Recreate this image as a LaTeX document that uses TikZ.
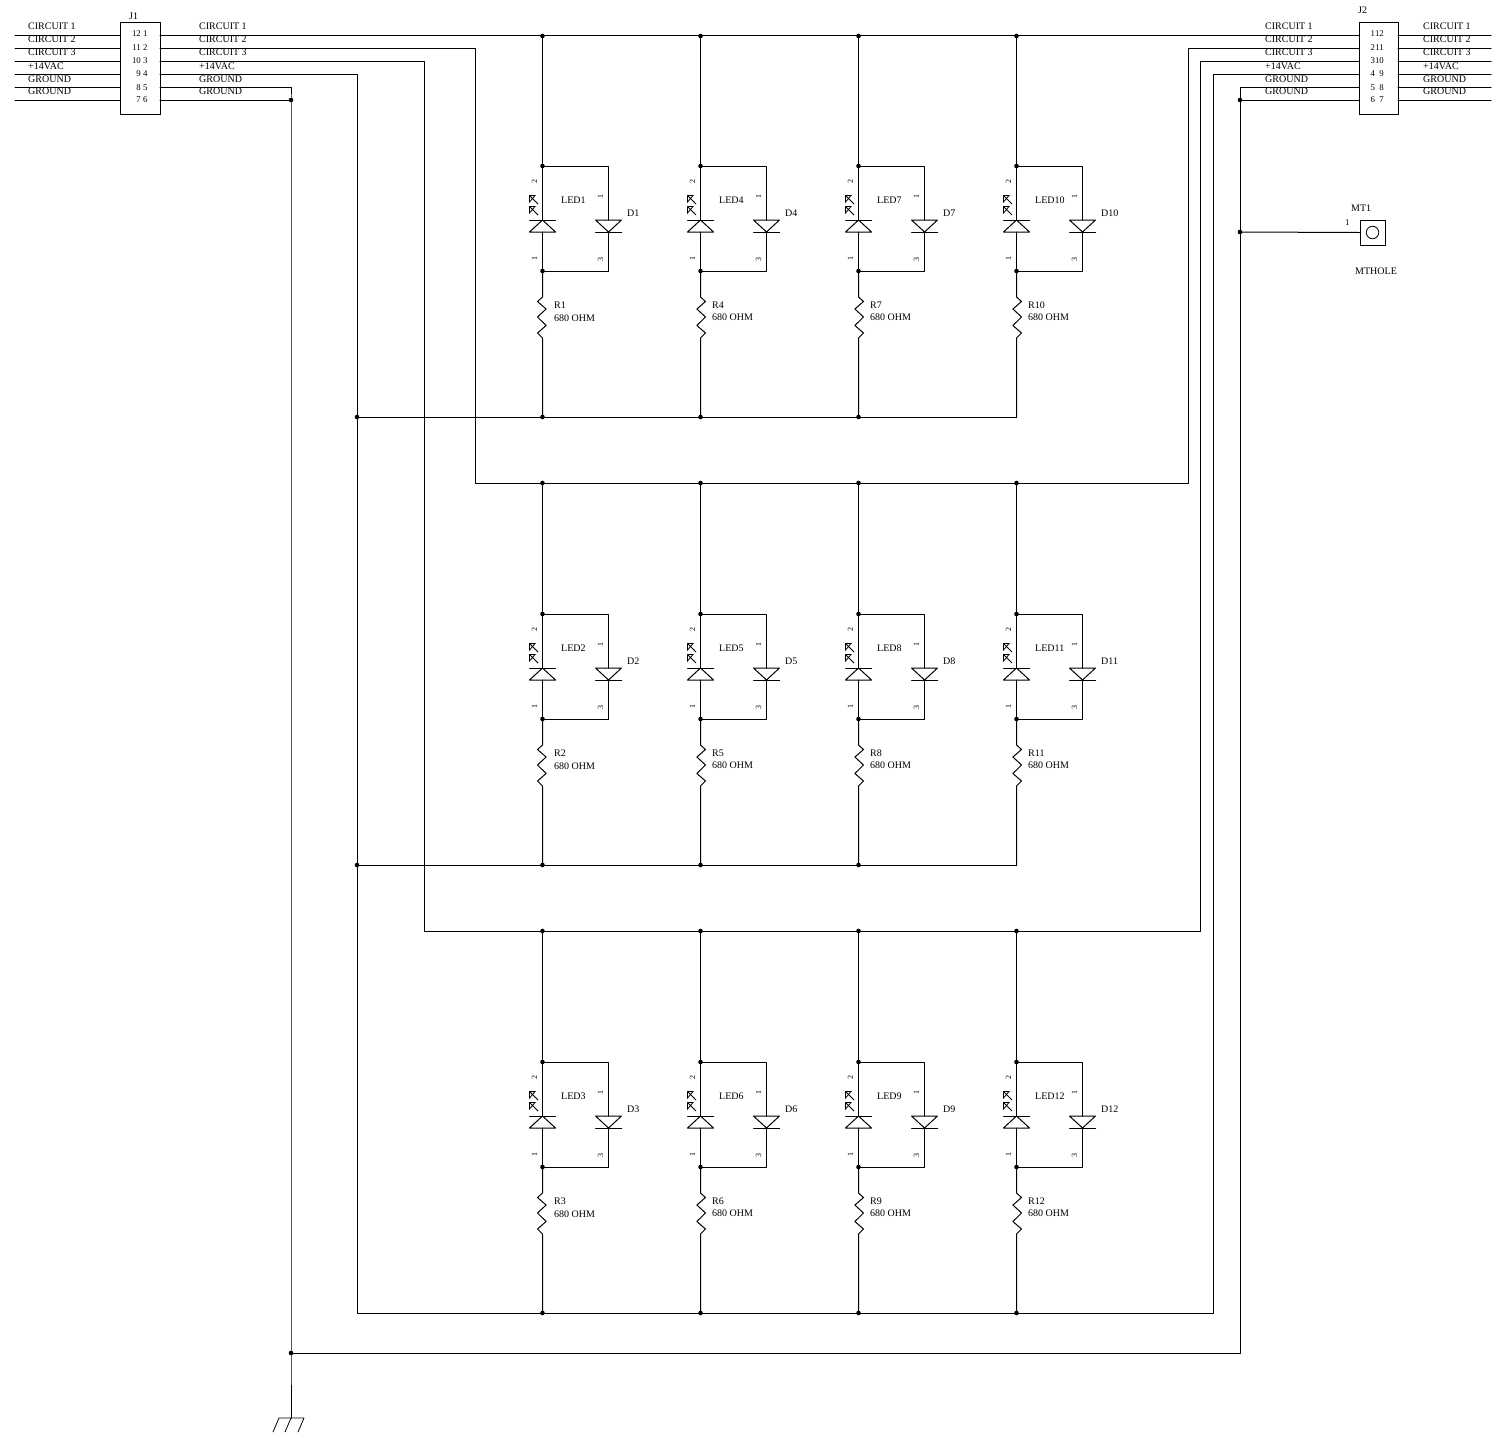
\documentclass[tikz,border=0pt]{standalone}
\usepackage{fontspec}
\setmainfont{Liberation Serif}
\tikzset{
  wire/.style={line width=1pt,line cap=round,line join=round},
  lab/.style={anchor=base west,inner sep=0pt,font=\fontsize{10}{10}\selectfont},
  pinw/.style={anchor=base west,inner sep=0pt,font=\fontsize{8.8}{8.8}\selectfont},
  pine/.style={anchor=base east,inner sep=0pt,font=\fontsize{8.8}{8.8}\selectfont},
  pinr/.style={inner sep=0pt,rotate=90,font=\fontsize{8}{8}\selectfont},
  dot/.style={circle,fill=black,inner sep=0pt,minimum size=4.6pt},
}
\begin{document}
\begin{tikzpicture}[x=1pt,y=-1pt]
\useasboundingbox (0,0) rectangle (1496,1433);
% connectors
\node[draw,line width=1pt,minimum width=40pt,minimum height=92pt,inner sep=0pt] (J1) at (140,68) {};
\node[draw,line width=1pt,minimum width=39pt,minimum height=92pt,inner sep=0pt] (J2) at (1378.5,68) {};
\node[lab] (J1t) at (129,19) {J1};
\node[lab] (J2t) at (1358,13) {J2};
\foreach \i/\y/\by/\t/\pyb/\la/\lb/\ra/\rb in {
 1/35/29/CIRCUIT 1/36/12/1/1/12,
 2/48/42/CIRCUIT 2/50/11/2/2/11,
 3/61/55/CIRCUIT 3/63/10/3/3/10,
 4/74/69/+14VAC/76/9/4/4/9,
 5/87/82/GROUND/90/8/5/5/8,
 6/100/94/GROUND/102/7/6/6/7}{
  \coordinate (LF\i) at (15,\y);
  \coordinate (LA\i) at (120,\y);
  \coordinate (LB\i) at (160,\y);
  \coordinate (RA\i) at (1359,\y);
  \coordinate (RB\i) at (1398,\y);
  \coordinate (RF\i) at (1491,\y);
  \draw[wire] (LF\i) -- (LA\i);
  \draw[wire] (RB\i) -- (RF\i);
  \node[lab] (ta\i) at (28,\by) {\t};
  \node[lab] (tb\i) at (199,\by) {\t};
  \node[lab] (tc\i) at (1265,\by) {\t};
  \node[lab] (td\i) at (1423,\by) {\t};
  \node[pine] (pa\i) at (141,\pyb) {\la};
  \node[pinw] (pb\i) at (143,\pyb) {\lb};
  \node[pinw] (pc\i) at (1370.3,\pyb) {\ra};
  \node[pine] (pd\i) at (1384,\pyb) {\rb};
}
% junction points of the wiring
\coordinate (c2a) at (475,48); \coordinate (c2b) at (475,483);
\coordinate (c2c) at (1188,483); \coordinate (c2d) at (1188,48);
\coordinate (c3a) at (424,61); \coordinate (c3b) at (424,931);
\coordinate (c3c) at (1200,931); \coordinate (c3d) at (1200,61);
\coordinate (c4a) at (357,74); \coordinate (c4b) at (357,1313);
\coordinate (c4c) at (1213,1313); \coordinate (c4d) at (1213,74);
\coordinate (g1) at (291,87);
\node[dot] (g2) at (291,100) {};
\node[dot] (g3) at (291,1353) {};
\coordinate (g4) at (291,1418);
\coordinate (g5) at (1240,1353);
\coordinate (g6) at (1240,87);
\node[dot] (g7) at (1240,100) {};
\node[dot] (g8) at (1240,232) {};
\draw[wire] (LB1) -- (RA1);
\draw[wire] (LB2) -- (c2a) -- (c2b) -- (c2c) -- (c2d) -- (RA2);
\draw[wire] (LB3) -- (c3a) -- (c3b) -- (c3c) -- (c3d) -- (RA3);
\draw[wire] (LB4) -- (c4a) -- (c4b) -- (c4c) -- (c4d) -- (RA4);
\draw[wire] (LB5) -- (g1) -- (g2.center) -- (g3.center) -- (g4);
\draw[wire] (LB6) -- (g2.center);
\draw[wire] (g3.center) -- (g5) -- (g6) -- (RA5);
\draw[wire] (g7.center) -- (RA6);
% ground symbol
\coordinate (ga) at (279,1418); \coordinate (gb) at (304,1418);
\coordinate (gc) at (273,1432); \coordinate (gd) at (285,1432); \coordinate (ge) at (298,1432);
\draw[wire,line width=0.8pt] (ga) -- (gb) (ga) -- (gc) (g4) -- (gd) (gb) -- (ge);
% mounting hole
\node[draw,line width=1pt,minimum size=25pt,inner sep=0pt] (MT) at (1372.5,232.5) {};
\node[draw,circle,line width=0.8pt,minimum size=12.5pt,inner sep=0pt] (MTc) at (MT.center) {};
\draw[wire] (g8.center) -- (MT.west);
\node[lab] (MTa) at (1351,211) {MT1};
\node[pinw] (MTb) at (1345,225) {1};
\node[lab] (MTd) at (1355,274) {MTHOLE};
% LED cells: s is the side on which the resistor zigzag starts
\foreach \c/\x/\s/\vy in {0/542.5/-1/321.5,1/700.5/1/320,2/858.5/1/320,3/1016.5/1/320}{
 \foreach \r/\dy/\rail/\ret in {0/0/36/417,1/448/483/865,2/896/931/1313}{
  \pgfmathtruncatemacro{\n}{3*\c+\r+1}
  \pgfmathsetmacro{\pa}{5*\s}
  \pgfmathsetmacro{\pb}{-3.6*\s}
  \begin{scope}[shift={(\x,\dy)}]
   \node[dot] (top\n) at (0,166) {};
   \node[dot] (bot\n) at (0,271) {};
   \node[dot] (rail\n) at (0,\rail-\dy) {};
   \ifnum\n=10 \coordinate (ret\n) at (0,\ret-\dy);\else
   \ifnum\n=11 \coordinate (ret\n) at (0,\ret-\dy);\else
   \node[dot] (ret\n) at (0,\ret-\dy) {};\fi\fi
   \coordinate (dt\n) at (66,166);
   \coordinate (db\n) at (66,271);
   % LED
   \coordinate (la\n) at (0,220);
   \coordinate (lk\n) at (0,232);
   \draw[wire] (rail\n.center) -- (top\n.center) -- (la\n);
   \draw[wire] (-13,220) -- (13,220);
   \draw[wire] (-13,232) -- (13,232) -- (la\n) -- cycle;
   \draw[wire] (lk\n) -- (bot\n.center) -- (db\n) -- (66,232);
   % diode
   \draw[wire] (top\n.center) -- (dt\n) -- (66,220);
   \draw[wire] (53,220) -- (79,220) -- (66,232) -- cycle;
   \draw[wire] (53,232) -- (79,232);
   % light arrows
   \draw[line width=0.8pt,line join=miter] (-4.5,204) -- (-13,195.5) (-13,195.5) -- (-7.5,195.5) -- (-13,202) -- cycle;
   \draw[line width=0.8pt,line join=miter] (-4.5,215) -- (-13,206.5) (-13,206.5) -- (-7.5,206.5) -- (-13,213) -- cycle;
   % resistor
   \draw[wire] (bot\n.center) -- (0,297) -- (\pa,301.5) -- (\pb,309) -- (\pa,317) -- (\pb,325.5) -- (\pa,333) -- (0,338) -- (ret\n.center);
   % labels
   \node[pinr] (p1\n) at (-8,181) {2};
   \node[pinr] (p2\n) at (-8,258) {1};
   \node[pinr] (p3\n) at (58,196) {1};
   \node[pinr] (p4\n) at (58,259) {3};
   \node[lab] (led\n) at (18.5,203) {LED\n};
   \node[lab] (d\n) at (84.5,216) {D\n};
   \node[lab] (r\n) at (11.5,308) {R\n};
   \node[lab] (v\n) at (11.5,\vy) {680 OHM};
  \end{scope}
 }
}
\draw[wire] (ret10.center) -- (ret1.center);
\draw[wire] (ret11.center) -- (ret2.center);
\node[dot] (e1) at (357,417) {};
\node[dot] (e2) at (357,865) {};
\draw[wire] (ret1.center) -- (e1.center);
\draw[wire] (ret2.center) -- (e2.center);
\end{tikzpicture}
\end{document}
